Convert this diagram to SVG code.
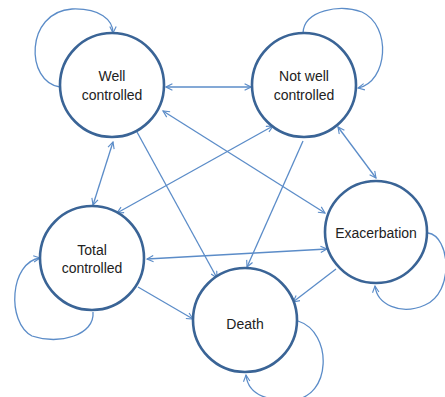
<svg xmlns="http://www.w3.org/2000/svg" width="445" height="397" viewBox="0 0 445 397">
  <style>
    .state { fill: #ffffff; stroke: #3a6496; stroke-width: 2.6; }
    .label { font-family: "Liberation Sans", Arial, sans-serif; font-size: 14px; fill: #222222; text-anchor: middle; }
    .edge { fill: none; stroke: #5b8cc8; stroke-width: 1.3; }
  </style>
  <defs>
    <marker id="arrow" viewBox="0 0 10 10" refX="9" refY="5" markerWidth="8" markerHeight="8" markerUnits="userSpaceOnUse" orient="auto-start-reverse">
      <path d="M1,1 L9,5 L1,9" fill="none" stroke="#5b8cc8" stroke-width="1.4"/>
    </marker>
  </defs>
  <rect width="445" height="397" fill="#ffffff"/>

  <g id="connectors">
    <!-- Well controlled <-> Not well controlled -->
    <path class="edge" d="M166,87 L251,87" marker-start="url(#arrow)" marker-end="url(#arrow)"/>
    <!-- Well controlled <-> Total controlled -->
    <path class="edge" d="M113,142 L93,205" marker-start="url(#arrow)" marker-end="url(#arrow)"/>
    <!-- Well controlled -> Death -->
    <path class="edge" d="M137,132 L217,278" marker-end="url(#arrow)"/>
    <!-- Total controlled <-> Not well controlled -->
    <path class="edge" d="M117,213 L273,126" marker-start="url(#arrow)" marker-end="url(#arrow)"/>
    <!-- Not well controlled -> Death -->
    <path class="edge" d="M303,141 L247,267" marker-end="url(#arrow)"/>
    <!-- Well controlled <-> Exacerbation -->
    <path class="edge" d="M163,111 L325,213" marker-start="url(#arrow)" marker-end="url(#arrow)"/>
    <!-- Not well controlled <-> Exacerbation -->
    <path class="edge" d="M338,127 L376,178" marker-start="url(#arrow)" marker-end="url(#arrow)"/>
    <!-- Total controlled <-> Exacerbation -->
    <path class="edge" d="M147,259 L327,249" marker-start="url(#arrow)" marker-end="url(#arrow)"/>
    <!-- Total controlled -> Death -->
    <path class="edge" d="M138,287 L193,319" marker-end="url(#arrow)"/>
    <!-- Exacerbation -> Death -->
    <path class="edge" d="M336,269 L293,302" marker-end="url(#arrow)"/>

    <!-- self loops -->
    <path class="edge" d="M60,87 C25,82 25,12 72,9 C100,8 113,20 113,33" marker-end="url(#arrow)"/>
    <path class="edge" d="M303,33 C304,10 340,4 362,12 C392,26 388,82 358,88" marker-end="url(#arrow)"/>
    <path class="edge" d="M93,312 C95,335 60,345 32,336 C6,322 10,262 40,258" marker-end="url(#arrow)"/>
    <path class="edge" d="M428,233 C450,236 455,292 425,305 C400,316 377,304 375,286" marker-end="url(#arrow)"/>
    <path class="edge" d="M298,321 C333,332 332,398 292,400 C266,401 248,394 246,375" marker-end="url(#arrow)"/>
  </g>

  <g id="well-controlled">
    <circle class="state" cx="112" cy="85" r="52"/>
    <text class="label" x="112" y="81">Well</text>
    <text class="label" x="112" y="100">controlled</text>
  </g>
  <g id="not-well-controlled">
    <circle class="state" cx="304" cy="85" r="52"/>
    <text class="label" x="304" y="81">Not well</text>
    <text class="label" x="304" y="100">controlled</text>
  </g>
  <g id="exacerbation">
    <circle class="state" cx="376" cy="232" r="51"/>
    <text class="label" x="376" y="238">Exacerbation</text>
  </g>
  <g id="total-controlled">
    <circle class="state" cx="92" cy="258" r="52"/>
    <text class="label" x="92" y="255">Total</text>
    <text class="label" x="92" y="273">controlled</text>
  </g>
  <g id="death">
    <circle class="state" cx="245" cy="320" r="52"/>
    <text class="label" x="245" y="329">Death</text>
  </g>
</svg>
